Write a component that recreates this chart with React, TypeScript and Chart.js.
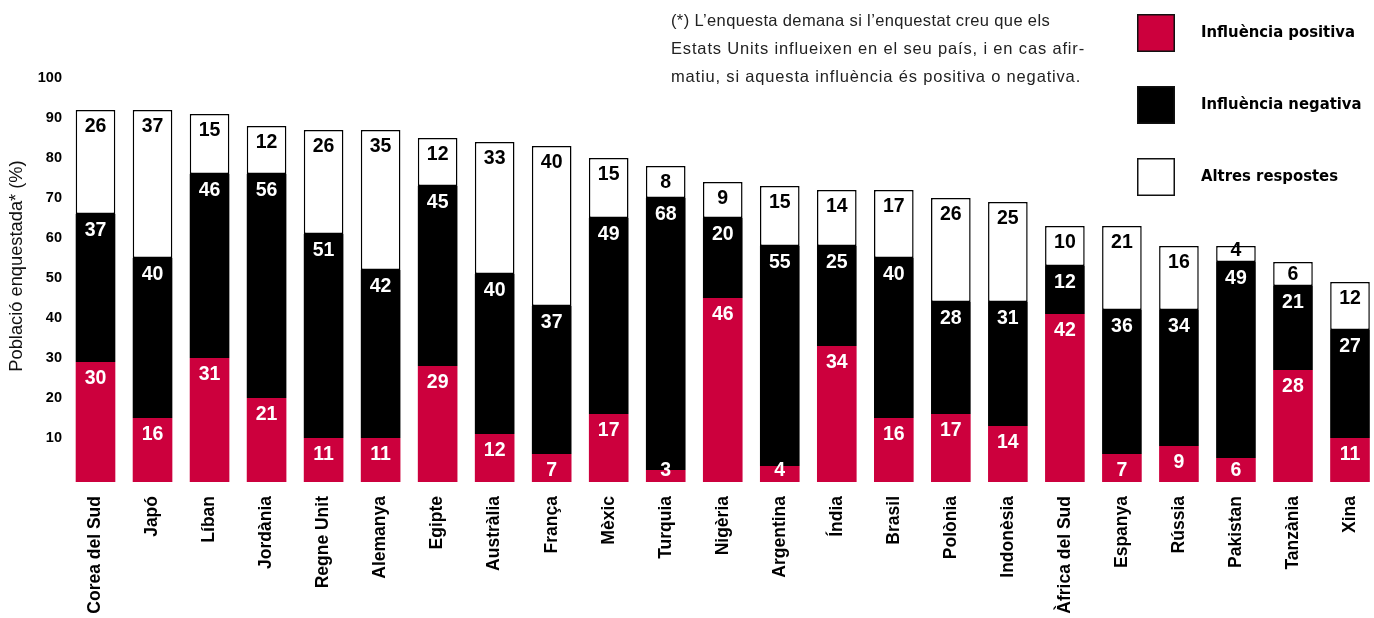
import React, { useEffect, useRef } from "react";
import { Chart, registerables } from "chart.js";

Chart.register(...registerables);

const categories = ["Corea del Sud", "Japó", "Líban", "Jordània", "Regne Unit", "Alemanya", "Egipte", "Austràlia", "França", "Mèxic", "Turquia", "Nigèria", "Argentina", "Índia", "Brasil", "Polònia", "Indonèsia", "Àfrica del Sud", "Espanya", "Rússia", "Pakistan", "Tanzània", "Xina"];
const positive = [30, 16, 31, 21, 11, 11, 29, 12, 7, 17, 3, 46, 4, 34, 16, 17, 14, 42, 7, 9, 6, 28, 11];
const negative = [37, 40, 46, 56, 51, 42, 45, 40, 37, 49, 68, 20, 55, 25, 40, 28, 31, 12, 36, 34, 49, 21, 27];
const other = [26, 37, 15, 12, 26, 35, 12, 33, 40, 15, 8, 9, 15, 14, 17, 26, 25, 10, 21, 16, 4, 6, 12];
const seriesNames = ["Influència positiva", "Influència negativa", "Altres respostes"];
const yTicks = [10, 20, 30, 40, 50, 60, 70, 80, 90, 100];
const yTitle = "Població enquestada* (%)";
const noteLines = [
  "(*) L’enquesta demana si l’enquestat creu que els",
  "Estats Units influeixen en el seu país, i en cas afir-",
  "matiu, si aquesta influència és positiva o negativa.",
];
const noteWidths = [379, 414, 410];

const RED = "#cc003d";
const BOLD = '"Liberation Sans Narrow", "DejaVu Sans Condensed", "Liberation Sans", sans-serif';
const SANS = '"Liberation Sans", Arial, sans-serif';

const valueLabels = {
  id: "valueLabels",
  afterDatasetsDraw(chart: any) {
    const ctx = chart.ctx;
    ctx.save();
    ctx.font = `bold 19.5px ${SANS}`;
    ctx.textAlign = "center";
    ctx.textBaseline = "middle";
    chart.data.datasets.forEach((ds: any, di: number) => {
      const meta = chart.getDatasetMeta(di);
      meta.data.forEach((el: any, i: number) => {
        const top = Math.min(el.y, el.base);
        const bottom = Math.max(el.y, el.base);
        const cy = Math.min(top + 17, bottom - 11);
        ctx.fillStyle = di === 2 ? "#000" : "#fff";
        ctx.fillText(String(ds.data[i]), el.x, cy);
      });
    });
    ctx.restore();
  },
};

const extras = {
  id: "extras",
  afterDraw(chart: any) {
    const ctx = chart.ctx;
    ctx.save();
    ctx.translate(17, 266);
    ctx.rotate(-Math.PI / 2);
    ctx.font = `18.3px ${SANS}`;
    ctx.fillStyle = "#111";
    ctx.textAlign = "center";
    ctx.textBaseline = "middle";
    ctx.fillText(yTitle, 0, 0);
    ctx.restore();

    ctx.save();
    ctx.font = `16.5px ${SANS}`;
    ctx.fillStyle = "#222";
    ctx.textAlign = "left";
    ctx.textBaseline = "middle";
    noteLines.forEach((l, i) => {
      (ctx as any).letterSpacing = "0px";
      const w = ctx.measureText(l).width;
      const sp = Math.max(0, (noteWidths[i] - w) / l.length);
      (ctx as any).letterSpacing = `${sp.toFixed(2)}px`;
      ctx.fillText(l, 671, 21 + i * 28);
    });
    (ctx as any).letterSpacing = "0px";

    const fills = [RED, "#000", "#fff"];
    fills.forEach((f, i) => {
      const y = 14 + i * 72;
      ctx.fillStyle = f;
      ctx.fillRect(1137, y, 38, 38);
      ctx.strokeStyle = "#111";
      ctx.lineWidth = 1.5;
      ctx.strokeRect(1137.75, y + 0.75, 36.5, 36.5);
      ctx.fillStyle = "#000";
      ctx.font = `bold 16.5px ${BOLD}`;
      ctx.fillText(seriesNames[i], 1201, y + 19);
    });
    ctx.restore();
  },
};

export default function App() {
  const ref = useRef<HTMLCanvasElement>(null);
  useEffect(() => {
    if (!ref.current) return;
    const chart = new Chart(ref.current, {
      type: "bar",
      data: {
        labels: categories,
        datasets: [
          { label: seriesNames[0], data: positive, backgroundColor: RED, borderWidth: 0 },
          { label: seriesNames[1], data: negative, backgroundColor: "#000", borderWidth: 0 },
          { label: seriesNames[2], data: other, backgroundColor: "#fff", borderColor: "#000", borderWidth: 1.5, borderSkipped: false },
        ],
      },
      options: {
        animation: false,
        responsive: true,
        maintainAspectRatio: false,
        layout: { padding: { top: 82, right: 1.5, left: 0, bottom: 0 } },
        datasets: { bar: { barPercentage: 0.695, categoryPercentage: 1 } },
        plugins: { legend: { display: false }, tooltip: { enabled: false } },
        scales: {
          x: {
            stacked: true,
            grid: { display: false, drawTicks: false },
            border: { display: false },
            ticks: {
              autoSkip: false,
              maxRotation: 90,
              minRotation: 90,
              padding: 14,
              color: "#000",
              font: { family: SANS, weight: "bold", size: 17.5 },
            },
            afterFit: (s: any) => {
              s.height = 136;
              s.paddingLeft = 0;
              s.paddingRight = 0;
            },
          },
          y: {
            stacked: true,
            min: 0,
            max: 100,
            grid: { display: false, drawTicks: false },
            border: { display: false },
            afterBuildTicks: (s: any) => { s.ticks = yTicks.map((v) => ({ value: v })); },
            ticks: {
              padding: 5,
              labelOffset: -4,
              color: "#000",
              font: { family: SANS, weight: "bold", size: 14.5 },
            },
            afterFit: (s: any) => { s.width = 67; },
          },
        },
      },
      plugins: [valueLabels, extras],
    });
    return () => chart.destroy();
  }, []);
  return (
    <div style={{ position: "absolute", left: 0, top: 0, width: 1374, height: 618, overflow: "hidden", background: "#fff" }}>
      <div style={{ position: "relative", width: 1380, height: 618 }}>
        <canvas ref={ref} />
      </div>
    </div>
  );
}
